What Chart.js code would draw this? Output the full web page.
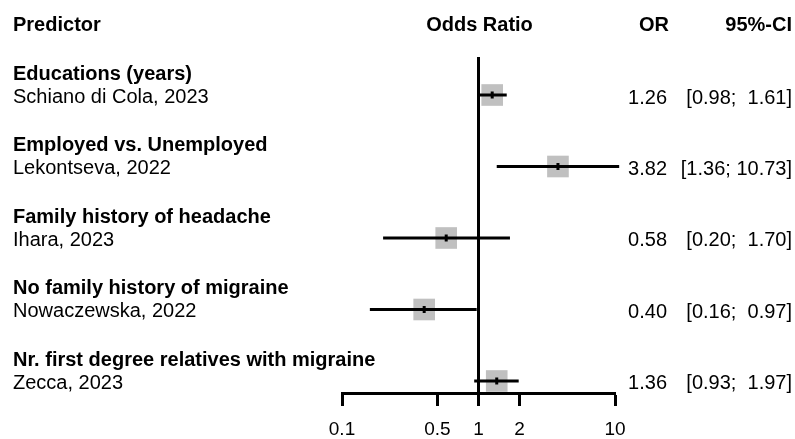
<!DOCTYPE html>
<html>
<head>
<meta charset="utf-8">
<script src="https://cdn.jsdelivr.net/npm/chart.js@4/dist/chart.umd.min.js"></script>
<style>
  html, body { margin: 0; padding: 0; background: #ffffff; }
  #c { display: block; }
</style>
</head>
<body>
<canvas id="c" width="795" height="439"></canvas>
<script>
// ---- data ----
const groups = [
  "Educations (years)",
  "Employed vs. Unemployed",
  "Family history of headache",
  "No family history of migraine",
  "Nr. first degree relatives with migraine"
];
const studies = [
  "Schiano di Cola, 2023",
  "Lekontseva, 2022",
  "Ihara, 2023",
  "Nowaczewska, 2022",
  "Zecca, 2023"
];
const orValues = [1.26, 3.82, 0.58, 0.40, 1.36];
const ciLower  = [0.98, 1.36, 0.20, 0.16, 0.93];
const ciUpper  = [1.61, 10.73, 1.70, 0.97, 1.97];
const xTicks   = [0.1, 0.5, 1, 2, 10];
const headers  = { predictor: "Predictor", axis: "Odds Ratio", or: "OR", ci: "95%-CI" };

// ---- styling ----
const FONT = '"Liberation Sans", Arial, Helvetica, sans-serif';
const FS = 20;
const LW = 3;

const rows = orValues.map((_, i) => i + 1);

const datasets = [];
// squares
datasets.push({
  data: orValues.map((v, i) => ({ x: v, y: rows[i] })),
  pointStyle: 'rect',
  pointRadius: 15.3,
  pointHoverRadius: 15.3,
  backgroundColor: 'rgb(192,192,192)',
  borderColor: 'rgb(192,192,192)',
  borderWidth: 0,
  showLine: false,
  order: 3
});
// CI lines
orValues.forEach((_, i) => {
  datasets.push({
    data: [{ x: ciLower[i], y: rows[i] }, { x: ciUpper[i], y: rows[i] }],
    showLine: true,
    borderColor: '#000',
    borderWidth: LW,
    pointRadius: 0,
    pointHoverRadius: 0,
    clip: false,
    order: 2
  });
});
// center marks
datasets.push({
  data: orValues.map((v, i) => ({ x: v, y: rows[i] })),
  pointStyle: 'line',
  rotation: 90,
  pointRadius: 3.5,
  pointHoverRadius: 3.5,
  borderColor: '#000',
  backgroundColor: '#000',
  borderWidth: 3,
  showLine: false,
  order: 1
});

const refLine = {
  id: 'refLine',
  beforeDraw(chart) {
    const ctx = chart.ctx;
    ctx.save();
    ctx.fillStyle = '#fff';
    ctx.fillRect(0, 0, chart.width, chart.height);
    ctx.restore();
  },
  beforeDatasetsDraw(chart) {
    const { ctx, chartArea, scales } = chart;
    const x = scales.x.getPixelForValue(1);
    ctx.save();
    ctx.strokeStyle = '#000';
    ctx.lineWidth = LW;
    ctx.beginPath();
    ctx.moveTo(x, chartArea.top);
    ctx.lineTo(x, chartArea.bottom);
    ctx.stroke();
    ctx.restore();
  }
};

const textCols = {
  id: 'textCols',
  afterDraw(chart) {
    const { ctx, scales } = chart;
    const xOne = scales.x.getPixelForValue(1);
    ctx.save();
    ctx.fillStyle = '#000';
    ctx.textBaseline = 'alphabetic';
    // headers
    ctx.font = `bold ${FS}px ${FONT}`;
    ctx.textAlign = 'left';
    ctx.fillText(headers.predictor, 13, 31);
    ctx.textAlign = 'center';
    ctx.fillText(headers.axis, xOne + 1, 31);
    ctx.textAlign = 'right';
    ctx.fillText(headers.or, 669, 31);
    ctx.fillText(headers.ci, 792, 31);
    // rows
    rows.forEach((r, i) => {
      const y = scales.y.getPixelForValue(r);
      ctx.font = `bold ${FS}px ${FONT}`;
      ctx.textAlign = 'left';
      ctx.fillText(groups[i], 13, y - 15);
      ctx.font = `${FS}px ${FONT}`;
      ctx.fillText(studies[i], 13, y + 8);
      ctx.textAlign = 'right';
      ctx.fillText(orValues[i].toFixed(2), 667, y + 8.5);
      const ci = '[' + ciLower[i].toFixed(2) + '; ' + ciUpper[i].toFixed(2).padStart(5, ' ') + ']';
      ctx.fillText(ci, 792, y + 8.5);
    });
    ctx.restore();
  }
};

new Chart(document.getElementById('c'), {
  type: 'scatter',
  data: { datasets },
  options: {
    responsive: false,
    animation: false,
    devicePixelRatio: 1,
    layout: { padding: { left: 342, right: 180, top: 57, bottom: 0 } },
    plugins: { legend: { display: false }, tooltip: { enabled: false } },
    events: [],
    scales: {
      x: {
        type: 'logarithmic',
        min: 0.1,
        max: 10,
        afterBuildTicks(scale) { scale.ticks = xTicks.map(v => ({ value: v })); },
        afterFit(scale) { scale.height = 46; },
        grid: {
          display: true,
          drawOnChartArea: false,
          drawTicks: true,
          tickLength: 13,
          tickWidth: LW,
          tickColor: '#000'
        },
        border: { display: true, color: '#000', width: LW },
        ticks: {
          autoSkip: false,
          maxRotation: 0,
          padding: 12,
          color: '#000',
          font: { family: FONT, size: 19 },
          callback: (v) => String(v)
        }
      },
      y: {
        type: 'linear',
        display: false,
        reverse: true,
        min: 0.4685,
        max: 5.168
      }
    }
  },
  plugins: [refLine, textCols]
});
</script>
</body>
</html>
